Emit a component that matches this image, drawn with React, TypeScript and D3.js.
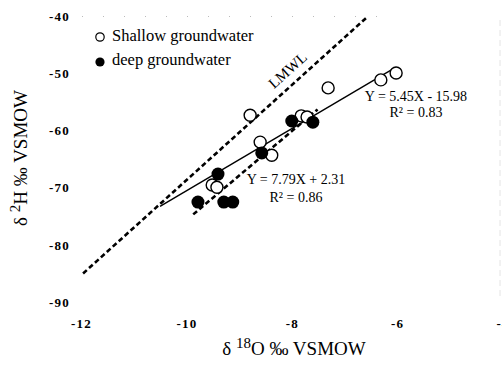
import React from 'react';
import * as d3 from 'd3';

// shallow groundwater (open circles)
const shallowO18 = [-8.8, -7.32, -6.32, -6.03, -8.61, -8.39, -9.52, -9.43, -7.83, -7.72];
const shallowH2 = [-57.3, -52.5, -51.1, -49.9, -62.0, -64.3, -69.5, -69.9, -57.4, -57.6];

// deep groundwater (filled circles)
const deepO18 = [-9.41, -9.79, -9.3, -9.13, -8.58, -8.01, -7.61];
const deepH2 = [-67.6, -72.5, -72.5, -72.5, -63.9, -58.3, -58.5];

// local meteoric water line, end points
const lmwlO18 = [-11.97, -6.58];
const lmwlH2 = [-85, -40.1];

// regression lines: slope, intercept, x range
const shallowFit = { slope: 5.45, intercept: -15.98, from: -10.51, to: -6.04 };
const deepFit = { slope: 7.79, intercept: 2.31, from: -9.88, to: -7.52 };

const xTicks = [-12, -10, -8, -6, -4];
const yTicks = [-40, -50, -60, -70, -80, -90];

const W = 502;
const H = 367;
const FONT = '"Liberation Serif", "Times New Roman", serif';

const App = () => {
  const x = d3.scaleLinear().domain([-12, -4]).range([81.5, 503.1]);
  const y = d3.scaleLinear().domain([-40, -90]).range([16.5, 302]);

  const line = d3
    .line<[number, number]>()
    .x(d => x(d[0]))
    .y(d => y(d[1]));

  const fitPts = (f: typeof shallowFit): [number, number][] =>
    [f.from, f.to].map(v => [v, f.slope * v + f.intercept] as [number, number]);

  const lmwl = lmwlO18.map((v, i) => [v, lmwlH2[i]] as [number, number]);

  // angle of LMWL on screen, for the label
  const ang =
    (Math.atan2(y(lmwlH2[1]) - y(lmwlH2[0]), x(lmwlO18[1]) - x(lmwlO18[0])) * 180) / Math.PI;

  return (
    <div style={{ position: 'fixed', left: 0, top: 0 }}>
      <svg width={W} height={H} style={{ display: 'block', background: '#fff' }} fontFamily={FONT}>
        {/* faint scan remnants of the frame */}
        <line x1={82} x2={395} y1={16.5} y2={16.5} stroke="#bbb" strokeDasharray="1,20" />
        <line x1={500} x2={500} y1={20} y2={300} stroke="#e4e4e4" strokeDasharray="6,4" />

        {/* y tick labels */}
        {yTicks.map(t => (
          <text
            key={t}
            x={70}
            y={y(t)}
            dy="0.36em"
            textAnchor="end"
            fontSize={13}
            fontWeight="bold"
            letterSpacing={1.2}
          >
            {t}
          </text>
        ))}
        {/* x tick labels */}
        {xTicks.map(t => (
          <text
            key={t}
            x={x(t)}
            y={328}
            textAnchor="middle"
            fontSize={13}
            fontWeight="bold"
            letterSpacing={1.2}
          >
            {t}
          </text>
        ))}

        {/* LMWL */}
        <path d={line(lmwl) ?? ''} fill="none" stroke="#000" strokeWidth={2.6} strokeDasharray="5,3" />
        <text
          transform={`translate(291,74) rotate(${ang})`}
          textAnchor="middle"
          fontSize={15}
        >
          LMWL
        </text>

        {/* regression lines */}
        <path d={line(fitPts(shallowFit)) ?? ''} fill="none" stroke="#000" strokeWidth={1.4} />
        <path
          d={line(fitPts(deepFit)) ?? ''}
          fill="none"
          stroke="#000"
          strokeWidth={2.6}
          strokeDasharray="5,3"
        />

        {/* points */}
        {shallowO18.map((v, i) => (
          <circle
            key={'s' + i}
            cx={x(v)}
            cy={y(shallowH2[i])}
            r={6}
            fill="#fff"
            stroke="#000"
            strokeWidth={1.4}
          />
        ))}
        {deepO18.map((v, i) => (
          <circle key={'d' + i} cx={x(v)} cy={y(deepH2[i])} r={6.5} fill="#000" />
        ))}

        {/* equations */}
        <text x={416} y={101} textAnchor="middle" fontSize={14}>
          Y = 5.45X - 15.98
        </text>
        <text x={416} y={117} textAnchor="middle" fontSize={14}>
          R² = 0.83
        </text>
        <text x={296} y={184} textAnchor="middle" fontSize={14}>
          Y = 7.79X + 2.31
        </text>
        <text x={296} y={202} textAnchor="middle" fontSize={14}>
          R² = 0.86
        </text>

        {/* legend */}
        <circle cx={100} cy={37} r={4.2} fill="#fff" stroke="#000" strokeWidth={1.2} />
        <text x={112} y={41} fontSize={16.5}>
          Shallow groundwater
        </text>
        <circle cx={100} cy={62} r={4.6} fill="#000" />
        <text x={112} y={65} fontSize={16.5}>
          deep groundwater
        </text>

        {/* axis titles */}
        <text x={294} y={355} textAnchor="middle" fontSize={19}>
          δ <tspan dy={-7} fontSize={15}>18</tspan>
          <tspan dy={7}>O ‰ VSMOW</tspan>
        </text>
        <text transform="translate(27,158) rotate(-90)" textAnchor="middle" fontSize={19}>
          δ <tspan dy={-7} fontSize={15}>2</tspan>
          <tspan dy={7}>H ‰ VSMOW</tspan>
        </text>
      </svg>
    </div>
  );
};

export default App;
